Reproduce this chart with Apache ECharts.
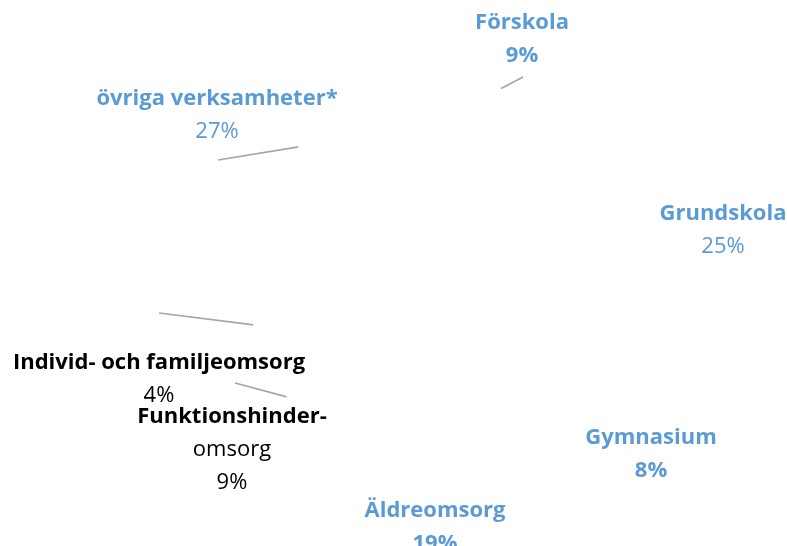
<!DOCTYPE html>
<html><head><meta charset="utf-8">
<script src="https://cdn.jsdelivr.net/npm/echarts@6/dist/echarts.min.js"></script>
<style>html,body{margin:0;padding:0;background:#fff}#c{width:787px;height:546px}</style>
</head><body><div id="c"></div>
<script>
// ---- data ----
const categories = ['Förskola', 'Grundskola', 'Gymnasium', 'Äldreomsorg', 'Funktionshinder-\nomsorg', 'Individ- och familjeomsorg', 'övriga verksamheter*'];
const values = [9, 25, 8, 19, 9, 4, 27];

// ---- label styling / layout ----
const labelColors = ['#5B9BD5', '#5B9BD5', '#5B9BD5', '#5B9BD5', '#000000', '#000000', '#5B9BD5'];
const percentBold = [true, false, true, true, false, false, false];
const labelCenters = [[522, 39], [723, 230], [651, 454], [435, 527], [232, 450], [159, 379], [217, 115]];
const leaderEnds = [[1, 38], null, null, null, [3, -67], [0, -66], [1, 45]];

const FONT = 'Open Sans';
const FS = 22, LH = 33;
function st(color, bold) {
  return { color: color, fontWeight: bold ? 'bold' : 'normal', fontFamily: FONT, fontSize: FS, lineHeight: LH, align: 'center' };
}
const rich = {
  bb: st('#5B9BD5', true), bn: st('#5B9BD5', false),
  kb: st('#000000', true), kn: st('#000000', false)
};

const data = categories.map((name, i) => ({
  name: name,
  value: values[i],
  labelLine: { show: !!leaderEnds[i] }
}));

const chart = echarts.init(document.getElementById('c'), null, { renderer: 'canvas' });
chart.setOption({
  animation: false,
  backgroundColor: '#ffffff',
  series: [{
    type: 'pie',
    center: [446, 279],
    radius: 198,
    startAngle: 90,
    clockwise: true,
    silent: true,
    itemStyle: { color: '#ffffff', borderWidth: 0 },
    emphasis: { disabled: true },
    label: {
      show: true,
      position: 'outside',
      overflow: 'none',
      formatter: function (p) {
        const i = p.dataIndex;
        const pre = labelColors[i] === '#000000' ? 'k' : 'b';
        const lines = p.name.split('\n');
        const out = lines.map((l, j) => '{' + pre + (j === 0 ? 'b' : 'n') + '|' + l + '}');
        out.push('{' + pre + (percentBold[i] ? 'b' : 'n') + '|' + p.value + '%}');
        return out.join('\n');
      },
      rich: rich
    },
    labelLine: {
      show: true,
      length: 10,
      length2: 10,
      smooth: false,
      lineStyle: { color: '#A6A6A6', width: 1.75 }
    },
    labelLayout: function (p) {
      const i = p.dataIndex;
      const c = labelCenters[i];
      const res = { x: c[0], y: c[1], align: 'center', verticalAlign: 'middle', hideOverlap: false, moveOverlap: null };
      const e = leaderEnds[i];
      if (e && p.labelLinePoints) {
        res.labelLinePoints = [p.labelLinePoints[0], [c[0] + e[0], c[1] + e[1]]];
      }
      return res;
    },
    data: data
  }]
});
</script>
</body></html>
